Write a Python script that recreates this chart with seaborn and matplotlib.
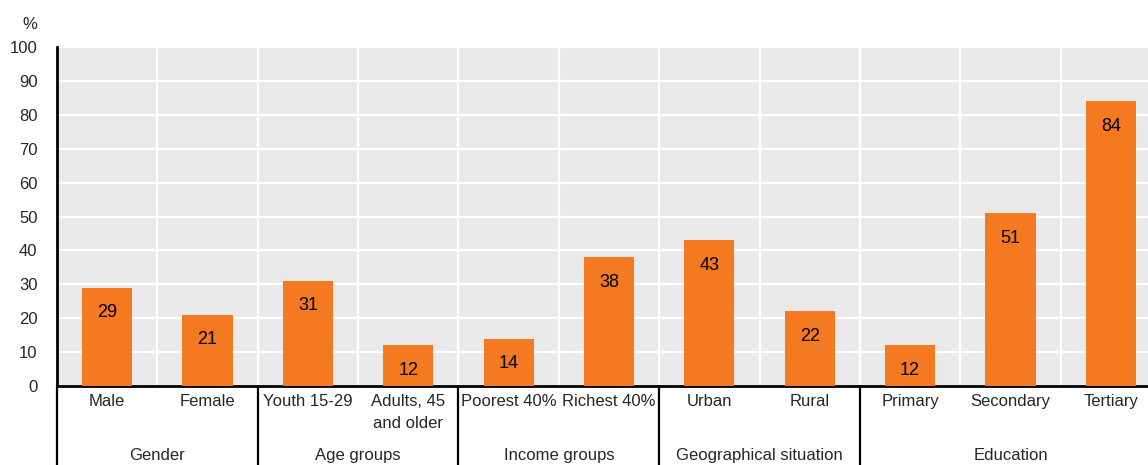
import matplotlib
matplotlib.use("Agg")
import matplotlib.pyplot as plt
import matplotlib.transforms as mtransforms
import seaborn as sns
import pandas as pd

categories = ["Male", "Female", "Youth 15-29", "Adults, 45\nand older",
              "Poorest 40%", "Richest 40%", "Urban", "Rural",
              "Primary", "Secondary", "Tertiary"]
values = [29, 21, 31, 12, 14, 38, 43, 22, 12, 51, 84]
groups = ["Gender", "Age groups", "Income groups", "Geographical situation", "Education"]
group_sizes = [2, 2, 2, 2, 3]

sns.set_style("white")
plt.rcParams["font.family"] = ["Liberation Sans Narrow", "Liberation Sans", "DejaVu Sans"]
plt.rcParams["font.size"] = 12

orange = "#F47920"
bg = "#E9E9E9"

df = pd.DataFrame({"cat": categories, "val": values})

fig = plt.figure(figsize=(11.48, 4.65), dpi=100)
ax = fig.add_axes([57 / 1148, 1 - 386 / 465, 1104 / 1148, 339 / 465])
ax.set_facecolor(bg)

sns.barplot(data=df, x="cat", y="val", color=orange, saturation=1, width=0.5,
            edgecolor="none", linewidth=0, ax=ax, zorder=3)

ax.set_xlim(-0.5, len(categories) - 0.5)
ax.set_ylim(0, 100)
ax.set_yticks(range(0, 101, 10))
ax.set_xticks([i + 0.5 for i in range(len(categories) - 1)], minor=True)
ax.grid(True, axis="y", color="white", linewidth=1.6, zorder=1)
ax.grid(True, axis="x", which="minor", color="white", linewidth=1.6, zorder=1)
ax.grid(False, axis="x", which="major")
ax.set_axisbelow(True)

for s in ["top", "right"]:
    ax.spines[s].set_visible(False)
ax.spines["left"].set_linewidth(2)
ax.spines["bottom"].set_linewidth(2)
ax.spines["left"].set_color("black")
ax.spines["bottom"].set_color("black")

ax.tick_params(axis="y", direction="in", length=4, width=1.8, color="black", pad=14, labelsize=12)
ax.tick_params(axis="x", which="both", length=0, pad=6, labelsize=12)
ax.set_xticks(range(len(categories)))
ax.set_xticklabels(categories, linespacing=1.55, va="top")
ax.set_xlabel("")
ax.set_ylabel("")

for i, v in enumerate(values):
    ax.text(i, v - 7.4, str(v), ha="center", va="center", fontsize=13, color="black", zorder=4)

ax.text(-0.0245, 1.065, "%", transform=ax.transAxes, ha="center", va="center", fontsize=12)

# group labels and separator lines below the axis
trans = mtransforms.blended_transform_factory(ax.transData, ax.transAxes)
start = 0
for g, n in zip(groups, group_sizes):
    ax.plot([start - 0.5, start - 0.5], [0, -0.24], transform=trans, color="black",
            linewidth=1.6, clip_on=False)
    ax.text(start + (n - 1) / 2, -0.205, g, transform=trans, ha="center", va="center", fontsize=12)
    start += n
ax.plot([start - 0.5, start - 0.5], [0, -0.24], transform=trans, color="black",
        linewidth=1.6, clip_on=False)

fig.savefig("out.png", dpi=100)
